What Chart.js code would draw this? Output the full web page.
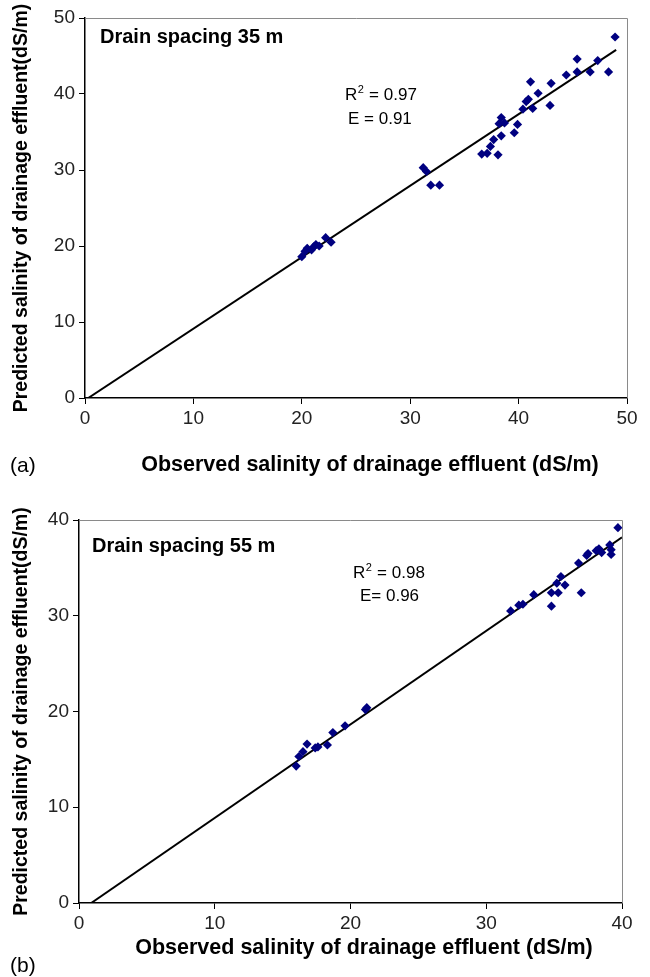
<!DOCTYPE html>
<html><head><meta charset="utf-8">
<script src="https://cdn.jsdelivr.net/npm/chart.js@4/dist/chart.umd.min.js"></script>
<style>
html,body{margin:0;padding:0;background:#fff}
body{width:650px;height:977px;overflow:hidden;position:relative}
.wrap{position:absolute;left:0;width:650px}
canvas{display:block}
</style></head><body>
<div class="wrap" style="top:0;height:490px"><canvas id="c1" width="650" height="490"></canvas></div>
<div class="wrap" style="top:490px;height:487px"><canvas id="c2" width="650" height="487"></canvas></div>
<script>
// ---- Data: drain spacing 35 m (panel a) ----
const observed35 = [20.0,20.3,20.5,20.9,21.1,21.3,21.6,22.2,22.7,
  31.2,31.5,31.9,32.7,
  36.6,37.1,37.4,37.7,38.1,38.4,38.2,38.7,38.4,39.6,39.9,40.4,40.7,40.9,41.3,41.1,41.8,42.9,43.0,44.4,45.4,45.4,46.6,47.3,48.3,48.9];
const predicted35 = [18.6,19.3,19.7,19.5,19.9,20.2,20.0,21.1,20.5,
  30.3,29.8,28.0,28.0,
  32.1,32.2,33.1,34.0,32.0,34.5,36.1,36.2,36.9,34.9,36.0,38.0,39.0,39.3,38.1,41.6,40.1,38.5,41.4,42.5,42.9,44.6,42.9,44.4,42.9,47.5];
const fitX35 = [0.3, 49.0];
const fitY35 = [0.0, 45.8];
const ticks35 = [0,10,20,30,40,50];

// ---- Data: drain spacing 55 m (panel b) ----
const observed55 = [16.0,16.2,16.5,16.8,17.4,17.6,18.3,18.7,19.6,21.1,21.2,
  31.8,32.4,32.7,33.5,
  34.8,34.8,35.3,35.2,35.5,35.8,37.0,36.8,37.4,37.5,38.1,38.3,38.5,39.1,39.2,39.2,39.7];
const predicted55 = [14.3,15.3,15.8,16.6,16.2,16.3,16.5,17.8,18.5,20.2,20.4,
  30.5,31.1,31.2,32.2,
  31.0,32.4,32.4,33.4,34.1,33.2,32.4,35.5,36.3,36.5,36.8,37.0,36.6,37.4,36.9,36.4,39.2];
const fitX55 = [0.9, 40.0];
const fitY55 = [0.0, 38.2];
const ticks55 = [0,10,20,30,40];

const xTitle = 'Observed salinity of drainage effluent (dS/m)';
const yTitle = 'Predicted salinity of drainage effluent(dS/m)';

const FONT = "'Liberation Sans', Arial, Helvetica, sans-serif";

function pts(xs, ys){ return xs.map((x,i)=>({x:x, y:ys[i]})); }

function makeChart(id, cfg){
  const H = cfg.height;
  const annot = {
    id:'annot'+id,
    afterDraw(chart){
      const ctx = chart.ctx, a = chart.chartArea;
      ctx.save();
      // frame top/right
      ctx.strokeStyle = '#8a8a8a'; ctx.lineWidth = 1;
      ctx.beginPath();
      ctx.moveTo(a.left, a.top+0.5); ctx.lineTo(a.right+0.5, a.top+0.5); ctx.lineTo(a.right+0.5, a.bottom);
      ctx.stroke();
      ctx.fillStyle = '#000';
      ctx.textBaseline = 'alphabetic'; ctx.textAlign = 'left';
      ctx.font = 'bold 20px ' + FONT;
      ctx.fillText(cfg.label, cfg.labelX, cfg.labelY);
      // R^2
      ctx.font = '17px ' + FONT;
      ctx.fillText('R', cfg.rX, cfg.rY);
      const rw = ctx.measureText('R').width;
      ctx.font = '11px ' + FONT;
      ctx.fillText('2', cfg.rX + rw + 0.5, cfg.rY - 7);
      const sw = ctx.measureText('2').width;
      ctx.font = '17px ' + FONT;
      ctx.fillText(cfg.rText, cfg.rX + rw + sw + 1, cfg.rY);
      ctx.fillText(cfg.eText, cfg.eX, cfg.eY);
      ctx.font = '21px ' + FONT;
      ctx.fillText(cfg.panel, 10, cfg.panelY);
      // x-axis title
      ctx.font = 'bold 21.5px ' + FONT;
      ctx.textAlign = 'center'; ctx.textBaseline = 'middle';
      ctx.fillText(xTitle, cfg.xtX, cfg.xtY);
      ctx.restore();
    }
  };
  return new Chart(document.getElementById(id), {
    type:'scatter',
    data:{datasets:[
      {type:'scatter', data:pts(cfg.obs, cfg.pred), pointStyle:'rectRot', pointRadius:4.6, pointHoverRadius:4.6,
       backgroundColor:'#000080', borderColor:'#000080', borderWidth:0, order:0},
      {type:'line', data:pts(cfg.fx, cfg.fy), borderColor:'#000', borderWidth:2, pointRadius:0, fill:false, order:1}
    ]},
    options:{
      responsive:false, animation:false, devicePixelRatio:1,
      layout:{padding:{left:0, top:cfg.top, right:650-cfg.right, bottom:0}},
      plugins:{legend:{display:false}, tooltip:{enabled:false}},
      scales:{
        x:{type:'linear', min:0, max:cfg.max, afterBuildTicks(s){ s.ticks = cfg.ticks.map(v=>({value:v})); },
           afterFit(s){ s.height = H - cfg.bottom; },
           grid:{drawOnChartArea:false, drawTicks:true, tickLength:6, color:'#000', lineWidth:1},
           border:{display:true, color:'#000', width:1.5},
           ticks:{font:{family:FONT, size:19}, color:'#222', padding:3, maxRotation:0},
           title:{display:false}},
        y:{type:'linear', min:0, max:cfg.max, afterBuildTicks(s){ s.ticks = cfg.ticks.map(v=>({value:v})); },
           afterFit(s){ s.width = cfg.left; },
           grid:{drawOnChartArea:false, drawTicks:true, tickLength:6, color:'#000', lineWidth:1},
           border:{display:true, color:'#000', width:1.5},
           ticks:{font:{family:FONT, size:19}, color:'#222', padding:4},
           title:{display:true, text:yTitle, font:{family:FONT, size:19.5, weight:'bold'}, color:'#000', padding:{top:10, bottom:0}}}
      }
    },
    plugins:[annot]
  });
}

makeChart('c1', {height:490, top:18, bottom:398, left:85, right:627, max:50, ticks:ticks35,
  obs:observed35, pred:predicted35, fx:fitX35, fy:fitY35, xtX:370, xtY:465,
  label:'Drain spacing 35 m', labelX:100, labelY:43,
  rX:345, rY:100, rText:' = 0.97', eX:348, eY:124, eText:'E = 0.91', panel:'(a)', panelY:472});

makeChart('c2', {height:487, top:30, bottom:413, left:79, right:622, max:40, ticks:ticks55,
  obs:observed55, pred:predicted55, fx:fitX55, fy:fitY55, xtX:364, xtY:458,
  label:'Drain spacing 55 m', labelX:92, labelY:62,
  rX:353, rY:88, rText:' = 0.98', eX:360, eY:111, eText:'E= 0.96', panel:'(b)', panelY:482});
</script>
</body></html>
